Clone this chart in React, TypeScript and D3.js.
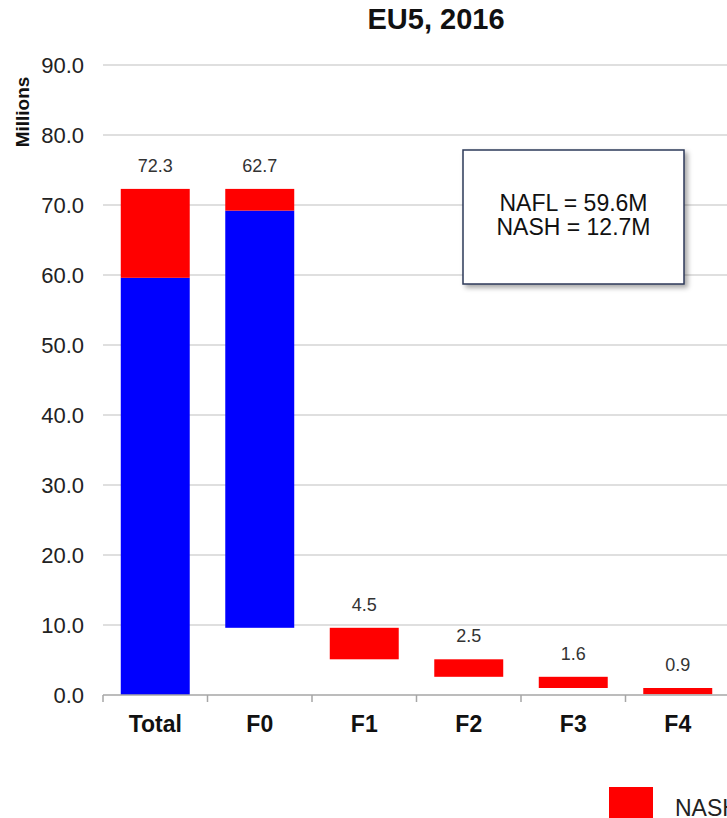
import React from "react";
import * as d3 from "d3";

// Prevalence waterfall (millions) by fibrosis stage
const categories = ["Total", "F0", "F1", "F2", "F3", "F4"];
const naflValues = [59.6, 59.6, 0, 0, 0, 0];
const nashValues = [12.7, 3.1, 4.5, 2.5, 1.6, 0.9];
const yTicks = [0, 10, 20, 30, 40, 50, 60, 70, 80, 90];
const summaryLines = ["NAFL = 59.6M", "NASH = 12.7M"];
const legendItems = [{ label: "NASH", color: "#FF0000" }];

const W = 727;
const H = 818;
const FONT = "'Liberation Sans', Arial, sans-serif";

export default function App() {
  const x = d3
    .scaleBand<string>()
    .domain(categories)
    .range([103, 730])
    .paddingInner(0.34)
    .paddingOuter(0.17);
  const y = d3.scaleLinear().domain([0, 90]).range([695, 65]);

  // Waterfall stacking: Total starts at zero, each stage hangs from the previous base
  const totals = categories.map((_, i) => naflValues[i] + nashValues[i]);
  const bases: number[] = [];
  categories.forEach((_, i) => {
    if (i === 0) bases.push(0);
    else if (i === 1) bases.push(totals[0] - totals[1]);
    else bases.push(bases[i - 1] - totals[i]);
  });

  const step = x.step();
  const boundaries = categories.map((c) => (x(c) as number) - (step - x.bandwidth()) / 2);
  boundaries.push(boundaries[boundaries.length - 1] + step);

  return (
    <svg
      width={W}
      height={H}
      style={{ position: "absolute", left: 0, top: 0, background: "#fff" }}
    >
      <defs>
        <filter id="boxShadow" x="-10%" y="-10%" width="130%" height="130%">
          <feDropShadow dx="3" dy="3" stdDeviation="2.5" floodColor="#000" floodOpacity="0.35" />
        </filter>
      </defs>

      {/* title */}
      <text
        x={436}
        y={29}
        textAnchor="middle"
        fontFamily={FONT}
        fontWeight="bold"
        fontSize={29}
        fill="#111"
      >
        EU5, 2016
      </text>

      {/* gridlines */}
      {yTicks
        .filter((t) => t > 0)
        .map((t) => (
          <line
            key={"g" + t}
            x1={103}
            x2={730}
            y1={y(t)}
            y2={y(t)}
            stroke="#D4D4D4"
            strokeWidth={1.5}
          />
        ))}

      {/* y tick labels */}
      {yTicks.map((t) => (
        <text
          key={"t" + t}
          x={84}
          y={y(t)}
          dy="0.36em"
          textAnchor="end"
          fontFamily={FONT}
          fontSize={22}
          fill="#222"
        >
          {t.toFixed(1)}
        </text>
      ))}

      {/* y axis title */}
      <text
        transform={`translate(29,112) rotate(-90)`}
        textAnchor="middle"
        fontFamily={FONT}
        fontWeight="bold"
        fontSize={19}
        fill="#111"
      >
        Millions
      </text>

      {/* bars */}
      {categories.map((c, i) => {
        const bx = x(c) as number;
        const bw = x.bandwidth();
        const base = bases[i];
        const naflTop = base + naflValues[i];
        const top = naflTop + nashValues[i];
        return (
          <g key={c}>
            {naflValues[i] > 0 && (
              <rect
                x={bx}
                y={y(naflTop)}
                width={bw}
                height={y(base) - y(naflTop)}
                fill="#0000FF"
              />
            )}
            {nashValues[i] > 0 && (
              <rect
                x={bx}
                y={y(top)}
                width={bw}
                height={y(naflTop) - y(top)}
                fill="#FF0000"
              />
            )}
            <text
              x={bx + bw / 2}
              y={y(top) - 17}
              textAnchor="middle"
              fontFamily={FONT}
              fontSize={18}
              fill="#333"
            >
              {totals[i].toFixed(1)}
            </text>
            <text
              x={bx + bw / 2}
              y={732}
              textAnchor="middle"
              fontFamily={FONT}
              fontWeight="bold"
              fontSize={23}
              fill="#111"
            >
              {c}
            </text>
          </g>
        );
      })}

      {/* x axis */}
      <line x1={103} x2={730} y1={695} y2={695} stroke="#A6A6A6" strokeWidth={1.5} />
      {boundaries.map((bx, i) => (
        <line
          key={"xt" + i}
          x1={bx}
          x2={bx}
          y1={695}
          y2={702}
          stroke="#A6A6A6"
          strokeWidth={1.5}
        />
      ))}

      {/* summary box */}
      <g>
        <rect
          x={463}
          y={150}
          width={221}
          height={134}
          fill="#fff"
          stroke="#2E3A5A"
          strokeWidth={1.5}
          filter="url(#boxShadow)"
        />
        {summaryLines.map((s, i) => (
          <text
            key={s}
            x={573.5}
            y={211 + i * 24}
            textAnchor="middle"
            fontFamily={FONT}
            fontSize={23}
            fill="#111"
          >
            {s}
          </text>
        ))}
      </g>

      {/* legend */}
      {legendItems.map((l) => (
        <g key={l.label}>
          <rect x={609} y={787} width={44} height={40} fill={l.color} />
          <text x={675} y={816} fontFamily={FONT} fontSize={23} fill="#222">
            {l.label}
          </text>
        </g>
      ))}
    </svg>
  );
}
